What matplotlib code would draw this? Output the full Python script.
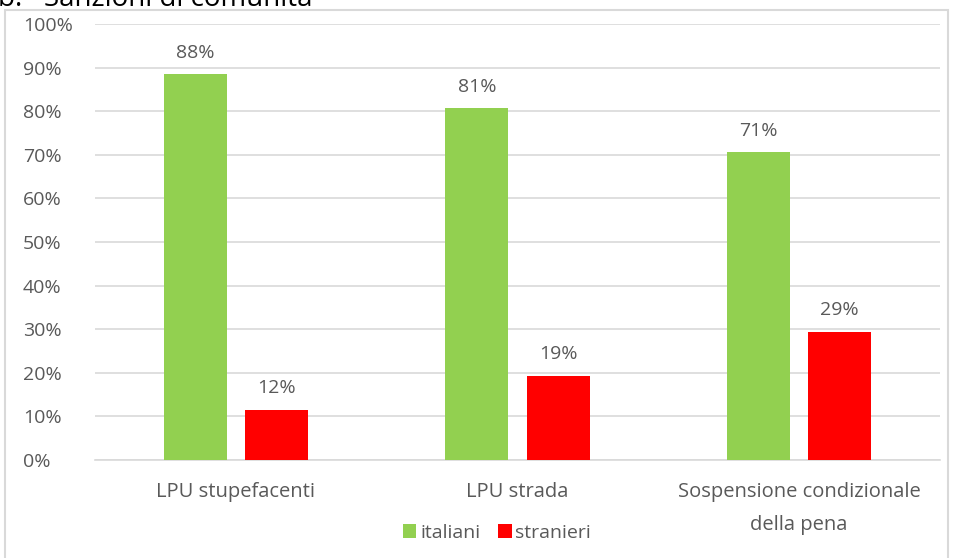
import matplotlib.pyplot as plt
import matplotlib.patches as mpatches
import numpy as np

# dati
categorie = ["LPU stupefacenti", "LPU strada", "Sospensione condizionale\ndella pena"]
italiani = [88.5, 80.7, 70.6]
stranieri = [11.5, 19.3, 29.4]
etichette_ita = ["88%", "81%", "71%"]
etichette_str = ["12%", "19%", "29%"]
tick_y = [0, 10, 20, 30, 40, 50, 60, 70, 80, 90, 100]

plt.rcParams['font.family'] = ['Open Sans', 'DejaVu Sans']
grigio = "#595959"
verde = "#92d050"
rosso = "#ff0000"
fs = 14

fig = plt.figure(figsize=(9.56, 5.58), dpi=100)
W, H = 956, 558
ax = fig.add_axes([95 / W, 1 - 460 / H, 845 / W, 436 / H])

x = np.arange(len(categorie))
larg = 0.224
off = 0.144
b1 = ax.bar(x - off, italiani, larg, color=verde, label="italiani", zorder=3)
b2 = ax.bar(x + off, stranieri, larg, color=rosso, label="stranieri", zorder=3)

for rect, t in zip(b1, etichette_ita):
    ax.annotate(t, (rect.get_x() + rect.get_width() / 2, rect.get_height()),
                xytext=(0, 9), textcoords="offset points", ha="center",
                va="bottom", fontsize=fs, color=grigio)
for rect, t in zip(b2, etichette_str):
    ax.annotate(t, (rect.get_x() + rect.get_width() / 2, rect.get_height()),
                xytext=(0, 9), textcoords="offset points", ha="center",
                va="bottom", fontsize=fs, color=grigio)

ax.set_xlim(-0.5, len(categorie) - 0.5)
ax.set_ylim(0, 100)
ax.set_yticks(tick_y)
ax.set_yticklabels([f"{v}%" for v in tick_y], fontsize=fs, color=grigio,
                   ha="left")
ax.set_xticks(x)
ax.set_xticklabels(categorie, fontsize=14.5, color=grigio, linespacing=1.85)
ax.tick_params(axis="x", length=0, pad=16)
ax.tick_params(axis="y", length=0, pad=52)
ax.grid(axis="y", color="#d9d9d9", linewidth=1.2, zorder=0)
for s in ["top", "right", "left"]:
    ax.spines[s].set_visible(False)
ax.spines["bottom"].set_color("#d9d9d9")
ax.spines["bottom"].set_linewidth(1.2)

fig.legend(handles=[b1, b2], labels=["italiani", "stranieri"], loc="center",
           bbox_to_anchor=(497 / W, 1 - 533 / H), ncol=2, frameon=False,
           fontsize=fs, labelcolor=grigio, handlelength=0.7, handleheight=0.7,
           handletextpad=0.2, columnspacing=0.9)

# cornice del grafico
fig.patches.append(mpatches.Rectangle((5 / W, -0.1), (948 - 5) / W, 1 - 10 / H + 0.1,
                                      transform=fig.transFigure, fill=False,
                                      edgecolor="#d9d9d9", linewidth=1.5))

# titolo tagliato in alto
fig.text(-2 / W, 1 + 1 / H, "b.   Sanzioni di comunità", fontsize=20,
         color="black", ha="left", va="center")

fig.savefig("out.png", dpi=100)
